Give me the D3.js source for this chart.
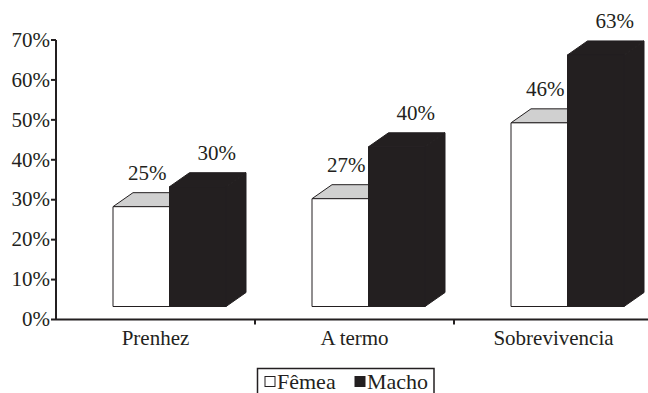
<!DOCTYPE html>
<html>
<head>
<meta charset="utf-8">
<script src="https://cdn.jsdelivr.net/npm/d3@7"></script>
</head>
<body style="margin:0">
<script>
const categories = ['Prenhez', 'A termo', 'Sobrevivencia'];
const seriesNames = ['Fêmea', 'Macho'];
const femea = [25, 27, 46];
const macho = [30, 40, 63];
const yTicks = [0, 10, 20, 30, 40, 50, 60, 70];

const width = 648;
const height = 393;
const margin = {top: 40, right: 0, bottom: 73.5, left: 56};
const depth = {dx: 20, dy: -14};   // 3D depth of the bars
const lift = 13;                   // bars sit behind the front axis
const barW = 56.5;
const black = '#231f20';
const serif = '"Liberation Serif", Tinos, "Times New Roman", FreeSerif';

const svg = d3.select('body')
  .append('svg')
  .attr('width', width)
  .attr('height', height);

const y = d3.scaleLinear()
  .domain([0, 70])
  .range([height - margin.bottom, margin.top]);

const x = d3.scaleBand()
  .domain(categories)
  .range([margin.left, margin.left + 3 * 199])
  .padding(0);

const data = categories.map((c, i) => ({cat: c, values: [femea[i], macho[i]]}));

// text helper: serif, inline style
const label = (sel, size) => sel
  .style('font-family', serif)
  .style('font-size', size + 'px')
  .attr('fill', black);

// bars
const bars = svg.append('g');
data.forEach(d => {
  d.values.forEach((v, s) => {
    const x0 = x(d.cat) + x.bandwidth() / 2 - 42.5 + s * barW;
    const x1 = x0 + barW;
    const yb = y(0) - lift;
    const yt = y(v) - lift;
    const g = bars.append('g')
      .attr('stroke', black)
      .attr('stroke-width', 1)
      .attr('stroke-linejoin', 'round');
    const fill = s === 0 ? '#fff' : black;
    // side
    g.append('path')
      .attr('fill', fill)
      .attr('d', `M${x1},${yb}L${x1 + depth.dx},${yb + depth.dy}L${x1 + depth.dx},${yt + depth.dy}L${x1},${yt}Z`);
    // top
    g.append('path')
      .attr('fill', s === 0 ? '#d0d0d0' : black)
      .attr('d', `M${x0},${yt}L${x0 + depth.dx},${yt + depth.dy}L${x1 + depth.dx},${yt + depth.dy}L${x1},${yt}Z`);
    // front
    g.append('rect')
      .attr('fill', fill)
      .attr('x', x0)
      .attr('y', yt)
      .attr('width', barW)
      .attr('height', yb - yt);

    // value label
    svg.append('text')
      .attr('x', x0 + barW / 2 + (s === 0 ? 6 : 19))
      .attr('y', yt + depth.dy - 13)
      .attr('text-anchor', 'middle')
      .call(label, 21)
      .text(v + '%');
  });
});

// y axis
const yAxis = svg.append('g');
yAxis.append('line')
  .attr('x1', margin.left).attr('x2', margin.left)
  .attr('y1', y(70)).attr('y2', y(0))
  .attr('stroke', black).attr('stroke-width', 2);
yAxis.selectAll('g')
  .data(yTicks)
  .join('g')
  .attr('transform', d => `translate(${margin.left},${y(d)})`)
  .call(g => g.append('line')
    .attr('x1', -5).attr('x2', 0)
    .attr('stroke', black).attr('stroke-width', 2))
  .call(g => g.append('text')
    .attr('x', -6)
    .attr('dy', '0.32em')
    .attr('text-anchor', 'end')
    .call(label, 21)
    .text(d => d + '%'));

// x axis
const xAxis = svg.append('g');
xAxis.append('line')
  .attr('x1', margin.left).attr('x2', width)
  .attr('y1', y(0)).attr('y2', y(0))
  .attr('stroke', black).attr('stroke-width', 2);
xAxis.selectAll('line.tick')
  .data(categories.slice(1))
  .join('line')
  .attr('class', 'tick')
  .attr('x1', d => x(d)).attr('x2', d => x(d))
  .attr('y1', y(0)).attr('y2', y(0) + 5)
  .attr('stroke', black).attr('stroke-width', 2);
xAxis.selectAll('text')
  .data(categories)
  .join('text')
  .attr('x', d => x(d) + x.bandwidth() / 2)
  .attr('y', y(0) + 25)
  .attr('text-anchor', 'middle')
  .call(label, 21)
  .text(d => d);

// legend
const legend = svg.append('g');
legend.append('rect')
  .attr('x', 257.5).attr('y', 368.5)
  .attr('width', 176.5).attr('height', 40)
  .attr('fill', 'none')
  .attr('stroke', black).attr('stroke-width', 1.5);
const items = legend.selectAll('g')
  .data(seriesNames)
  .join('g')
  .attr('transform', (d, i) => `translate(${265 + i * 90},0)`);
items.append('rect')
  .attr('x', 0).attr('y', 376.5)
  .attr('width', 10).attr('height', 10)
  .attr('fill', (d, i) => i === 0 ? '#fff' : black)
  .attr('stroke', black).attr('stroke-width', 1);
items.append('text')
  .attr('x', 12)
  .attr('y', 388.5)
  .call(label, 22)
  .text(d => d);
</script>
</body>
</html>
